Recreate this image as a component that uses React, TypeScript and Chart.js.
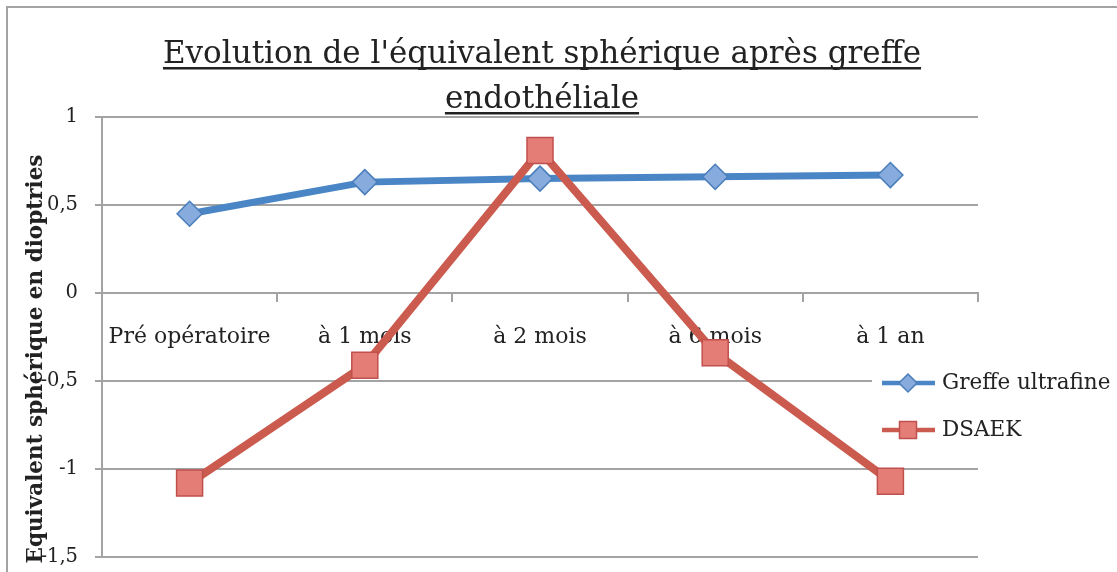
import React, { useEffect, useRef } from 'react';
import { Chart, registerables } from 'chart.js';

Chart.register(...registerables);

const categories = ['Pré opératoire', 'à 1 mois', 'à 2 mois', 'à 6 mois', 'à 1 an'];
const greffeUltrafine = [0.45, 0.63, 0.65, 0.66, 0.67];
const dsaek = [-1.08, -0.41, 0.81, -0.34, -1.07];
const seriesNames = ['Greffe ultrafine', 'DSAEK'];
const titleLines = ["Evolution de l'équivalent sphérique après greffe", 'endothéliale'];
const yAxisTitle = 'Equivalent sphérique en dioptries';
const yMin = -1.5;
const yMax = 1;
const yStep = 0.5;

const W = 1117;
const H = 572;
const SERIF = '"DejaVu Serif", "Liberation Serif", serif';
const TEXT = '#222222';
const GRID = '#a3a3a3';
const BLUE = '#4a86c6';
const BLUE_FILL = '#86abdc';
const BLUE_EDGE = '#4a7ebb';
const RED = '#cc5b4f';
const RED_FILL = '#e57d77';
const RED_EDGE = '#c0504d';

function drawDiamond(ctx: CanvasRenderingContext2D, x: number, y: number, r: number) {
  ctx.beginPath();
  ctx.moveTo(x, y - r);
  ctx.lineTo(x + r, y);
  ctx.lineTo(x, y + r);
  ctx.lineTo(x - r, y);
  ctx.closePath();
  ctx.fillStyle = BLUE_FILL;
  ctx.fill();
  ctx.strokeStyle = BLUE_EDGE;
  ctx.lineWidth = 1.5;
  ctx.stroke();
}

function drawSquare(ctx: CanvasRenderingContext2D, x: number, y: number, h: number) {
  ctx.beginPath();
  ctx.rect(x - h, y - h, 2 * h, 2 * h);
  ctx.fillStyle = RED_FILL;
  ctx.fill();
  ctx.strokeStyle = RED_EDGE;
  ctx.lineWidth = 1.5;
  ctx.stroke();
}

const decor = {
  id: 'decor',
  beforeDraw(chart: any) {
    const ctx: CanvasRenderingContext2D = chart.ctx;
    ctx.save();
    ctx.fillStyle = '#ffffff';
    ctx.fillRect(0, 0, W, H);
    ctx.strokeStyle = GRID;
    ctx.lineWidth = 2;
    ctx.beginPath();
    ctx.moveTo(7, H + 5);
    ctx.lineTo(7, 7);
    ctx.lineTo(W + 5, 7);
    ctx.stroke();
    ctx.restore();
  },
  afterDraw(chart: any) {
    const ctx: CanvasRenderingContext2D = chart.ctx;
    ctx.save();
    // Title (underlined)
    ctx.font = `31px ${SERIF}`;
    ctx.fillStyle = TEXT;
    ctx.textAlign = 'center';
    ctx.textBaseline = 'alphabetic';
    const cx = 542;
    const baselines = [63, 108];
    titleLines.forEach((line, i) => {
      ctx.fillText(line, cx, baselines[i]);
      const w = ctx.measureText(line).width;
      ctx.fillRect(cx - w / 2, baselines[i] + 4, w, 2.5);
    });
    // Y axis title
    ctx.save();
    ctx.translate(36, 359);
    ctx.rotate(-Math.PI / 2);
    ctx.font = `bold 21.5px ${SERIF}`;
    ctx.textAlign = 'center';
    ctx.textBaseline = 'middle';
    ctx.fillStyle = TEXT;
    ctx.fillText(yAxisTitle, 0, 0);
    ctx.restore();
    // Legend
    ctx.fillStyle = '#ffffff';
    ctx.fillRect(872, 362, W - 872, 90);
    const items = [
      { y: 383, color: BLUE, kind: 'diamond' },
      { y: 430, color: RED, kind: 'square' },
    ];
    items.forEach((it, i) => {
      ctx.strokeStyle = it.color;
      ctx.lineWidth = 4.5;
      ctx.beginPath();
      ctx.moveTo(882, it.y);
      ctx.lineTo(935, it.y);
      ctx.stroke();
      if (it.kind === 'diamond') drawDiamond(ctx, 908, it.y, 9);
      else drawSquare(ctx, 908, it.y, 8.5);
      ctx.font = `21.5px ${SERIF}`;
      ctx.fillStyle = TEXT;
      ctx.textAlign = 'left';
      ctx.textBaseline = 'middle';
      ctx.fillText(seriesNames[i], 942, it.y);
    });
    ctx.restore();
  },
};

export default function App() {
  const ref = useRef<HTMLCanvasElement>(null);
  useEffect(() => {
    const canvas = ref.current;
    if (!canvas) return;
    const chart = new Chart(canvas, {
      type: 'line',
      data: {
        labels: categories,
        datasets: [
          {
            label: seriesNames[0],
            data: greffeUltrafine,
            borderColor: BLUE,
            borderWidth: 7,
            pointStyle: 'rectRot',
            pointRadius: 12.5,
            pointBackgroundColor: BLUE_FILL,
            pointBorderColor: BLUE_EDGE,
            pointBorderWidth: 1.5,
            tension: 0,
            order: 1,
            clip: false,
          },
          {
            label: seriesNames[1],
            data: dsaek,
            borderColor: RED,
            borderWidth: 8,
            pointStyle: 'rect',
            pointRadius: 18.4,
            pointBackgroundColor: RED_FILL,
            pointBorderColor: RED_EDGE,
            pointBorderWidth: 1.5,
            tension: 0,
            order: 0,
            clip: false,
          },
        ],
      },
      options: {
        responsive: false,
        animation: false,
        events: [],
        layout: { autoPadding: false, padding: { left: 0, right: 139, top: 117, bottom: 15 } },
        plugins: {
          legend: { display: false },
          title: { display: false },
          tooltip: { enabled: false },
        },
        scales: {
          x: {
            type: 'category',
            offset: true,
            position: { y: 0 },
            grid: {
              offset: true,
              drawOnChartArea: false,
              tickLength: 8,
              color: GRID,
              lineWidth: 2,
            },
            border: { color: GRID, width: 2 },
            ticks: {
              font: { family: SERIF, size: 22 },
              color: TEXT,
              padding: 23,
              maxRotation: 0,
              autoSkip: false,
            },
            afterFit: (s: any) => {
              s.height = 0;
              s.paddingTop = 0;
              s.paddingBottom = 0;
              s.paddingLeft = 0;
              s.paddingRight = 0;
            },
          },
          y: {
            min: yMin,
            max: yMax,
            ticks: {
              stepSize: yStep,
              callback: (v: any) => String(v).replace('.', ','),
              font: { family: SERIF, size: 19.5 },
              color: TEXT,
              padding: 17,
            },
            grid: { color: GRID, lineWidth: 2, tickLength: 7 },
            border: { color: GRID, width: 2 },
            afterFit: (s: any) => {
              s.width = 102;
              s.paddingTop = 0;
              s.paddingBottom = 0;
            },
          },
        },
      },
      plugins: [decor],
    } as any);
    return () => chart.destroy();
  }, []);
  return (
    <div style={{ position: 'absolute', left: 0, top: 0, width: W, height: H }}>
      <canvas ref={ref} width={W} height={H} style={{ display: 'block' }} />
    </div>
  );
}
